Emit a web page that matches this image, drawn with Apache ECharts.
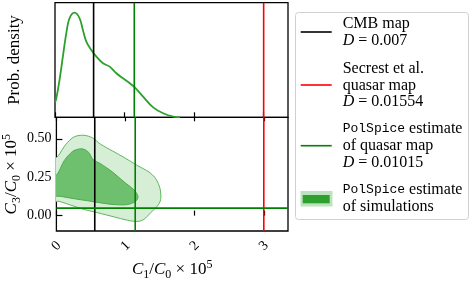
<!DOCTYPE html>
<html><head><meta charset="utf-8">
<script src="https://cdn.jsdelivr.net/npm/echarts@6/dist/echarts.min.js"></script>
<style>html,body{margin:0;padding:0;background:#fff}#c{width:472px;height:282px}</style>
</head><body><div id="c"></div>
<script>
// ---- data ----
const densityX = [0, 0.017, 0.065, 0.113, 0.162, 0.209, 0.281, 0.354, 0.401, 0.450, 0.522, 0.595, 0.690, 0.786, 0.883, 0.978, 1.075, 1.147, 1.267, 1.411, 1.556, 1.700, 1.797];
const densityY = [0.13, 0.160, 0.325, 0.529, 0.733, 0.864, 0.913, 0.864, 0.762, 0.660, 0.587, 0.529, 0.471, 0.442, 0.384, 0.340, 0.297, 0.262, 0.180, 0.087, 0.035, 0.005, 0.0];

const outerX = [-0.05, 0.026, 0.137, 0.257, 0.401, 0.522, 0.642, 0.811, 0.978, 1.172, 1.339, 1.436, 1.498, 1.508, 1.460, 1.364, 1.267, 1.172, 1.027, 0.834, 0.595, 0.401, 0.209, 0.040, -0.05, -0.05];
const outerY = [0.355, 0.389, 0.464, 0.513, 0.523, 0.506, 0.464, 0.421, 0.379, 0.326, 0.284, 0.241, 0.178, 0.104, 0.062, 0.019, -0.024, -0.038, -0.030, -0.008, 0.019, 0.040, 0.068, 0.093, 0.095, 0.230];

const innerX = [-0.05, 0.017, 0.113, 0.234, 0.330, 0.400, 0.470, 0.530, 0.642, 0.811, 0.978, 1.123, 1.180, 1.147, 1.027, 0.834, 0.642, 0.450, 0.257, 0.065, -0.05, -0.05];
const innerY = [0.250, 0.273, 0.358, 0.418, 0.434, 0.432, 0.410, 0.365, 0.337, 0.284, 0.220, 0.167, 0.125, 0.093, 0.072, 0.072, 0.083, 0.097, 0.110, 0.125, 0.132, 0.190];

const C1_CMB = 0.555;
const C1_SECREST = 3.0;
const C1_POLSPICE = 1.14;
const C3_POLSPICE = 0.049;

const xTicks = [0, 1, 2, 3];
const yTicks = [0, 0.25, 0.5];
const xRange = [0, 3.35];
const yRange = [-0.1, 0.64];
const densRange = [0, 1];

const legendLabels = [
  ['CMB map', '{i|D} = 0.007'],
  ['Secrest et al.', 'quasar map', '{i|D} = 0.01554'],
  ['{m|PolSpice} estimate', 'of quasar map', '{i|D} = 0.01015'],
  ['{m|PolSpice} estimate', 'of simulations']
];

// ---- chart ----
const SERIF = 'Liberation Serif';
const chart = echarts.init(document.getElementById('c'), null, {renderer: 'canvas'});

const titleRich = {
  i: {fontFamily: SERIF, fontStyle: 'italic', fontSize: 17, color: '#000', lineHeight: 22},
  n: {fontFamily: SERIF, fontSize: 17, color: '#000', lineHeight: 22},
  sb: {fontFamily: SERIF, fontSize: 12, color: '#000', lineHeight: 12, verticalAlign: 'bottom'},
  sp: {fontFamily: SERIF, fontSize: 12, color: '#000', lineHeight: 12, verticalAlign: 'top'}
};

function pairs(xs, ys) { return xs.map((x, i) => [x, ys[i]]); }

function polySeries(xs, ys, fill, stroke) {
  return {
    type: 'custom', xAxisIndex: 1, yAxisIndex: 1, clip: true, silent: true,
    data: pairs(xs, ys),
    encode: {x: 0, y: 1},
    renderItem: function (params, api) {
      if (params.dataIndex !== 0) return null;
      const pts = xs.map((x, i) => api.coord([x, ys[i]]));
      return {type: 'polygon', shape: {points: pts, smooth: 0.3},
              style: {fill: fill, stroke: stroke, lineWidth: 1}};
    }
  };
}

function vline(x, yr, color, xi, yi) {
  return {type: 'line', xAxisIndex: xi, yAxisIndex: yi, data: [[x, yr[0]], [x, yr[1]]],
          symbol: 'none', silent: true, lineStyle: {color: color, width: 1.6}, z: 5};
}

const legendItems = [];
const LX = 342.7;
const lineCenters = [[24, 40.7], [68.3, 85.7, 101.5], [128.3, 145.7, 162.7], [190, 206.7]];
const legendRich = {
  i: {fontFamily: SERIF, fontStyle: 'italic', fontSize: 16, fill: '#000'},
  m: {fontFamily: 'Liberation Mono', fontSize: 13, fill: '#000'}
};
legendItems.push({type: 'rect', shape: {x: 295.5, y: 12.5, width: 173, height: 207, r: 3},
                  style: {fill: '#fff', stroke: '#d0d0d0', lineWidth: 1}, z: 10});
legendLabels.forEach((lines, k) => {
  lines.forEach((t, j) => {
    legendItems.push({type: 'text', x: LX, y: lineCenters[k][j], z: 11,
      style: {text: t, fontFamily: SERIF, fontSize: 16, fill: '#000',
              textAlign: 'left', textVerticalAlign: 'middle', verticalAlign: 'middle', rich: legendRich}});
  });
});
[[32, '#000000'], [85, '#ff0000'], [145.7, '#008000']].forEach(([y, c]) => {
  legendItems.push({type: 'line', shape: {x1: 300.7, y1: y, x2: 331.7, y2: y}, style: {stroke: c, lineWidth: 1.6}, z: 11});
});
legendItems.push({type: 'rect', shape: {x: 300.5, y: 191, width: 32, height: 15.5}, style: {fill: '#bde2bd'}, z: 11});
legendItems.push({type: 'rect', shape: {x: 302.7, y: 195, width: 27, height: 8.3}, style: {fill: '#2ea02e'}, z: 12});

const option = {
  animation: false,
  backgroundColor: '#fff',
  grid: [
    {left: 55, top: 2.7, width: 233, height: 114.6, show: true, borderColor: '#000', borderWidth: 1.3, backgroundColor: 'transparent'},
    {left: 55, top: 117.3, width: 233, height: 116, show: true, borderColor: '#000', borderWidth: 1.3, backgroundColor: 'transparent'}
  ],
  xAxis: [
    {type: 'value', gridIndex: 0, min: xRange[0], max: xRange[1],
     axisLine: {show: false}, splitLine: {show: false}, axisLabel: {show: false},
     axisTick: {show: true, inside: true, length: 5, customValues: xTicks, lineStyle: {color: '#000', width: 1.2}}},
    {type: 'value', gridIndex: 1, min: xRange[0], max: xRange[1],
     axisLine: {show: false}, splitLine: {show: false},
     axisTick: {show: true, inside: true, length: 5, customValues: xTicks, lineStyle: {color: '#000', width: 1.2}},
     axisLabel: {show: true, customValues: xTicks, rotate: 45, margin: 15, align: 'center', verticalAlign: 'middle',
                 fontFamily: SERIF, fontSize: 14, color: '#000', showMinLabel: true, showMaxLabel: true},
     name: '{i|C}{sb|1}{n|/}{i|C}{sb|0}{n| × 10}{sp|5}', nameLocation: 'middle', nameGap: 28,
     nameTextStyle: {rich: titleRich}},
    {type: 'value', gridIndex: 1, position: 'top', min: xRange[0], max: xRange[1],
     axisLine: {show: false}, splitLine: {show: false}, axisLabel: {show: false},
     axisTick: {show: true, inside: true, length: 4, customValues: xTicks, lineStyle: {color: '#000', width: 1.2}}}
  ],
  yAxis: [
    {type: 'value', gridIndex: 0, min: densRange[0], max: densRange[1],
     axisLine: {show: false}, splitLine: {show: false}, axisLabel: {show: false}, axisTick: {show: false},
     name: 'Prob. density', nameLocation: 'middle', nameGap: 32,
     nameTextStyle: {fontFamily: SERIF, fontSize: 17, color: '#000'}},
    {type: 'value', gridIndex: 1, min: yRange[0], max: yRange[1],
     axisLine: {show: false}, splitLine: {show: false},
     axisTick: {show: true, inside: true, length: 6, customValues: yTicks, lineStyle: {color: '#000', width: 1.2}},
     axisLabel: {show: true, customValues: yTicks, margin: 5, fontFamily: SERIF, fontSize: 14, color: '#000',
                 formatter: v => v.toFixed(2)},
     name: '{i|C}{sb|3}{n|/}{i|C}{sb|0}{n| × 10}{sp|5}', nameLocation: 'middle', nameGap: 31,
     nameTextStyle: {rich: titleRich}}
  ],
  series: [
    {type: 'line', xAxisIndex: 0, yAxisIndex: 0, data: pairs(densityX, densityY), smooth: 0.35,
     symbol: 'none', silent: true, clip: true, lineStyle: {color: '#2ca02c', width: 1.8}, z: 4},
    vline(C1_CMB, densRange, '#000000', 0, 0),
    vline(C1_POLSPICE, densRange, '#008000', 0, 0),
    vline(C1_SECREST, densRange, '#ff0000', 0, 0),
    polySeries(outerX, outerY, '#d6edd6', '#5cb85c'),
    polySeries(innerX, innerY, '#6ebf6e', '#4cae4c'),
    vline(C1_CMB, yRange, '#000000', 1, 1),
    vline(C1_POLSPICE, yRange, '#008000', 1, 1),
    vline(C1_SECREST, yRange, '#ff0000', 1, 1),
    {type: 'line', xAxisIndex: 1, yAxisIndex: 1, data: [[xRange[0], C3_POLSPICE], [xRange[1], C3_POLSPICE]],
     symbol: 'none', silent: true, lineStyle: {color: '#008000', width: 1.6}, z: 5}
  ],
  graphic: legendItems
};
chart.setOption(option);
</script></body></html>
